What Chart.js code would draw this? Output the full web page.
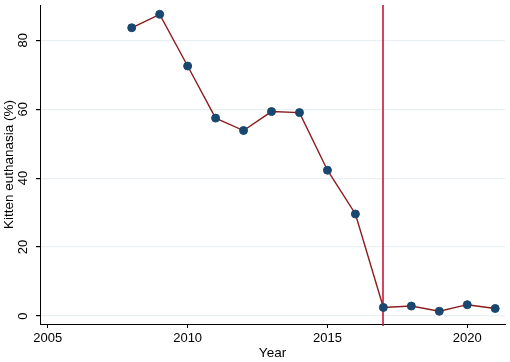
<!DOCTYPE html>
<html>
<head>
<meta charset="utf-8">
<script src="https://cdn.jsdelivr.net/npm/chart.js@4"></script>
<style>
  html, body { margin: 0; padding: 0; background: #fff; }
  #wrap { width: 510px; height: 362px; }
</style>
</head>
<body>
<div id="wrap"><canvas id="grafico"></canvas></div>
<script>
// dados
var anos = [2008, 2009, 2010, 2011, 2012, 2013, 2014, 2015, 2016, 2017, 2018, 2019, 2020, 2021];
var eutanasia = [83.6, 87.5, 72.5, 57.4, 53.8, 59.3, 59.0, 42.3, 29.6, 2.5, 2.9, 1.4, 3.3, 2.2];
var ticksX = [2005, 2010, 2015, 2020];
var ticksY = [0, 20, 40, 60, 80];
var anoIntervencao = 2017;

var fonte = "'Liberation Sans', Arial, sans-serif";

var pontos = [];
for (var i = 0; i < anos.length; i++) {
    pontos.push({ x: anos[i], y: eutanasia[i] });
}

// linha vertical + rotulos do eixo y girados (estilo Stata)
const extras = {
    id: 'extras',
    beforeDatasetsDraw(chart) {
        const ctx = chart.ctx;
        const area = chart.chartArea;
        const x = Math.round(chart.scales.x.getPixelForValue(anoIntervencao));
        ctx.save();
        ctx.strokeStyle = '#c8163e';
        ctx.lineWidth = 1.6;
        ctx.beginPath();
        ctx.moveTo(x, area.top);
        ctx.lineTo(x, area.bottom + 2);
        ctx.stroke();
        ctx.restore();
    },
    afterDraw(chart) {
        const ctx = chart.ctx;
        const y = chart.scales.y;
        ctx.save();
        ctx.fillStyle = '#000';
        ctx.font = '13px ' + fonte;
        ctx.textAlign = 'center';
        ctx.textBaseline = 'middle';
        for (var i = 0; i < ticksY.length; i++) {
            ctx.save();
            ctx.translate(23, y.getPixelForValue(ticksY[i]));
            ctx.rotate(-Math.PI / 2);
            ctx.fillText(String(ticksY[i]), 0, 0);
            ctx.restore();
        }
        ctx.restore();
    }
};

const grafico = document.getElementById('grafico').getContext('2d');
new Chart(grafico, {
    type: 'line',
    data: {
        datasets: [{
            data: pontos,
            borderColor: '#8b1c1c',
            borderWidth: 1.4,
            tension: 0,
            pointRadius: 4,
            pointBackgroundColor: '#1a476f',
            pointBorderColor: '#1a476f',
            pointBorderWidth: 1,
            fill: false
        }]
    },
    options: {
        responsive: true,
        maintainAspectRatio: false,
        animation: false,
        layout: { padding: { top: 3, right: 2, left: 0, bottom: 0 } },
        plugins: {
            legend: { display: false },
            tooltip: { enabled: false }
        },
        scales: {
            x: {
                type: 'linear',
                min: 2004.72,
                max: 2021.35,
                afterBuildTicks: (eixo) => { eixo.ticks = ticksX.map(v => ({ value: v })); },
                afterFit: (eixo) => { eixo.height = 38; },
                grid: {
                    display: true,
                    drawOnChartArea: false,
                    drawTicks: true,
                    tickLength: 4,
                    tickColor: '#000'
                },
                border: { display: true, color: '#000', width: 1 },
                ticks: {
                    color: '#000',
                    padding: 3,
                    maxRotation: 0,
                    font: { family: fonte, size: 13 },
                    callback: (v) => String(v)
                },
                title: {
                    display: true,
                    text: 'Year',
                    color: '#000',
                    padding: { top: 0, bottom: 1 },
                    font: { family: fonte, size: 13.5 }
                }
            },
            y: {
                min: -2.3,
                max: 90.2,
                afterBuildTicks: (eixo) => { eixo.ticks = ticksY.map(v => ({ value: v })); },
                afterFit: (eixo) => { eixo.width = 40; },
                grid: {
                    display: true,
                    drawOnChartArea: true,
                    drawTicks: true,
                    tickLength: 4,
                    color: '#e8f0f2',
                    tickColor: '#000',
                    lineWidth: 1.2
                },
                border: { display: true, color: '#000', width: 1 },
                ticks: {
                    display: false
                },
                title: {
                    display: true,
                    text: 'Kitten euthanasia (%)',
                    color: '#000',
                    padding: { top: 1, bottom: 0 },
                    font: { family: fonte, size: 13.5 }
                }
            }
        }
    },
    plugins: [extras]
});
</script>
</body>
</html>
